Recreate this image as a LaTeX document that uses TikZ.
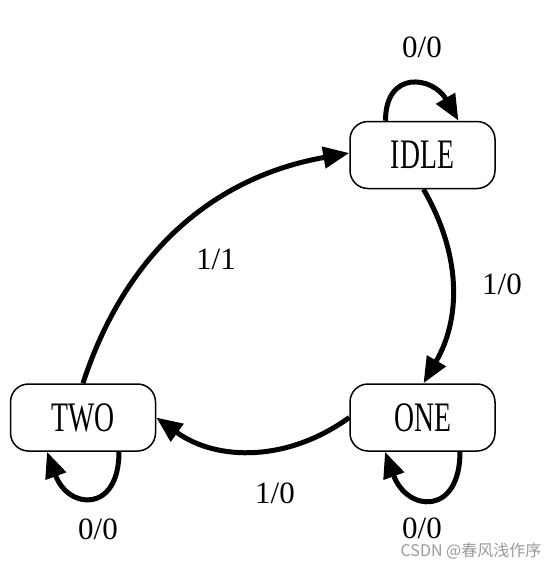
\documentclass[tikz,border=0pt]{standalone}
\usepackage{fontspec}
\setmainfont{Liberation Serif}
\newfontfamily\statefont[FakeStretch=0.66]{Liberation Serif}
\newfontfamily\cjkfont{Noto Sans CJK SC}
\usetikzlibrary{arrows.meta,positioning}

\begin{document}
\begin{tikzpicture}[
  x=1pt, y=1pt,
  node distance=194pt and 193pt,
  state/.style={rectangle, rounded corners=18pt, draw=black,
                line width=1.5pt, minimum width=145pt, minimum height=67pt,
                inner sep=0pt, font=\statefont\fontsize{42}{42}\selectfont},
  arrow/.style={-{Triangle[length=26pt,width=21pt]}, line width=5pt, black},
  lbl/.style={font=\fontsize{31}{31}\selectfont}
]
\useasboundingbox (0,0) rectangle (560,-566);

% states
\node[state] (idle) at (422.5,-155) {IDLE};
\node[state, below=of idle] (one) {ONE};
\node[state, left=of one] (two) {TWO};

% transitions
\draw[arrow] ([xshift=-37pt]idle.north) to[out=90,in=120,looseness=1.8] ([xshift=36pt]idle.north);
\draw[arrow] ([xshift=1pt]idle.south) to[out=-60,in=60] ([xshift=1pt]one.north);
\draw[arrow] (one.west) to[out=216,in=-36] (two.east);
\draw[arrow] (two.north) to[out=72,in=190] ([yshift=2pt]idle.west);
\draw[arrow] ([xshift=36pt]two.south) to[out=-90,in=-70,looseness=2.2] ([xshift=-36pt]two.south);
\draw[arrow] ([xshift=37.5pt]one.south) to[out=-90,in=-70,looseness=2.2] ([xshift=-37.5pt]one.south);

% labels
\node[lbl] (l1) at (422,-47) {0/0};
\node[lbl] (l2) at (502,-284) {1/0};
\node[lbl] (l3) at (275,-493) {1/0};
\node[lbl] (l4) at (216,-259) {1/1};
\node[lbl] (l5) at (98,-529) {0/0};
\node[lbl] (l6) at (422,-528) {0/0};

\node[font=\cjkfont\fontsize{16}{16}\selectfont, text=black!40] (mark) at (471,-551) {CSDN @春风浅作序};
\end{tikzpicture}
\end{document}
